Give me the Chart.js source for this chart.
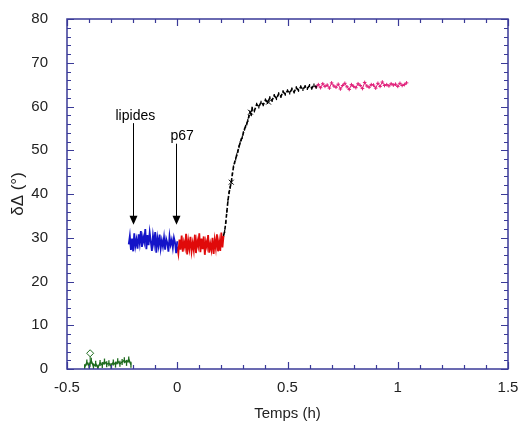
<!DOCTYPE html>
<html>
<head>
<meta charset="utf-8">
<script src="https://cdn.jsdelivr.net/npm/chart.js@4/dist/chart.umd.min.js"></script>
<style>
html,body{margin:0;padding:0;background:#fff;}
#wrap{width:518px;height:428px;position:relative;}
</style>
</head>
<body>
<div id="wrap"><canvas id="c" width="518" height="428"></canvas></div>
<script>
// ---- data (time in hours, delta-Delta in degrees) ----
const greenT = [-0.42,-0.41,-0.40,-0.39,-0.38,-0.37,-0.36,-0.35,-0.34,-0.33,-0.32,-0.31,-0.30,-0.29,-0.28,-0.27,-0.26,-0.25,-0.24,-0.23,-0.22,-0.21];
const greenV = [0.4,1.5,0.8,1.9,0.6,1.2,0.3,1.4,0.9,1.7,1.1,1.3,0.7,1.5,1.0,1.8,1.2,1.6,2.0,1.4,2.2,1.0];
const greenMarkT = [-0.395,-0.395];
const greenMarkV = [0.5,3.6];

const blueT = [-0.220,-0.215,-0.210,-0.205,-0.200,-0.195,-0.190,-0.185,-0.180,-0.175,-0.170,-0.165,-0.160,-0.155,-0.150,-0.145,-0.140,-0.135,-0.130,-0.125,-0.120,-0.115,-0.110,-0.105,-0.100,-0.095,-0.090,-0.085,-0.080,-0.075,-0.070,-0.065,-0.060,-0.055,-0.050,-0.045,-0.040,-0.035,-0.030,-0.025,-0.020,-0.015,-0.010,-0.005,0.000];
const blueV = [28.5,30.4,27.2,29.8,26.9,31.0,28.1,29.6,27.5,30.8,28.7,31.5,27.9,30.2,29.0,32.0,27.4,30.6,28.3,31.2,29.1,27.0,30.5,28.6,31.3,26.6,29.9,28.2,30.7,27.6,29.4,28.0,30.1,27.3,29.7,28.8,26.8,30.3,28.4,29.5,27.7,30.0,28.9,26.5,29.2];

const redT = [0.000,0.005,0.010,0.015,0.020,0.025,0.030,0.035,0.040,0.045,0.050,0.055,0.060,0.065,0.070,0.075,0.080,0.085,0.090,0.095,0.100,0.105,0.110,0.115,0.120,0.125,0.130,0.135,0.140,0.145,0.150,0.155,0.160,0.165,0.170,0.175,0.180,0.185,0.190,0.195,0.200,0.205,0.210];
const redV = [28.0,26.4,29.6,27.3,30.5,26.8,29.0,27.8,30.9,26.2,29.3,27.5,30.2,26.9,28.8,27.1,30.7,26.5,29.4,28.1,31.0,26.7,29.8,27.4,30.3,26.1,29.1,27.9,30.6,26.6,28.6,27.2,30.0,26.3,29.5,27.6,30.8,26.9,29.2,27.0,31.2,27.8,30.4];

const blackT = [0.210,0.215,0.220,0.225,0.230,0.235,0.240,0.245,0.250,0.255,0.260,0.265,0.270,0.275,0.280,0.285,0.290,0.295,0.300,0.305,0.310,0.315,0.320,0.325,0.330,0.335,0.340,0.350,0.360,0.370,0.380,0.390,0.400,0.410,0.420,0.430,0.440,0.450,0.460,0.470,0.480,0.490,0.500,0.510,0.520,0.530,0.540,0.550,0.560,0.570,0.580,0.590,0.600,0.610,0.620,0.630];
const blackV = [30.5,31.5,33.5,36.0,38.5,40.3,41.5,42.7,44.5,46.2,47.2,48.0,49.0,49.8,50.8,51.7,52.4,53.0,54.0,54.8,55.5,56.0,56.8,57.8,58.7,58.2,59.6,59.0,60.5,59.9,61.0,60.4,61.5,60.9,62.0,61.4,62.5,61.8,62.9,62.3,63.4,62.8,63.6,63.1,64.0,63.3,64.3,63.7,64.5,63.9,64.6,64.1,64.8,64.2,64.9,64.4];
const crossT = [0.245,0.332,0.414];
const crossV = [42.7,58.7,61.0];

const pinkT = [0.63,0.64,0.65,0.66,0.67,0.68,0.69,0.70,0.71,0.72,0.73,0.74,0.75,0.76,0.77,0.78,0.79,0.80,0.81,0.82,0.83,0.84,0.85,0.86,0.87,0.88,0.89,0.90,0.91,0.92,0.93,0.94,0.95,0.96,0.97,0.98,0.99,1.00,1.01,1.02,1.03,1.04];
const pinkV = [64.5,65.0,64.3,65.2,64.6,64.9,64.2,65.4,64.7,64.4,65.1,64.0,64.8,65.3,64.5,63.9,65.0,64.6,64.3,65.2,64.8,64.1,65.5,64.7,64.4,65.0,64.9,64.2,65.3,64.6,65.6,64.8,65.0,64.7,65.2,64.9,65.1,64.6,65.3,64.8,65.0,65.4];

// annotations: label, arrow x, arrow top, arrow tip, text x, text y
const annLabels = ["lipides","p67"];
const annArrowT = [-0.2,-0.006];
const annArrowTop = [56.2,51.5];
const annArrowTip = [33.0,33.0];
const annTextT = [-0.19,0.022];
const annTextV = [57.8,53.3];

const xTickLabels = [-0.5,0,0.5,1,1.5];
const yTickLabels = [0,10,20,30,40,50,60,70,80];

function pts(t,v){return t.map((x,i)=>({x:x,y:v[i]}));}

const AXIS = '#3a3a98';
const FAM = '"Liberation Sans", Arial, sans-serif';

const framePlugin = {
  id:'frame',
  afterDatasetsDraw(chart){
    const {ctx, chartArea:a, scales:{x,y}} = chart;
    ctx.save();
    ctx.strokeStyle = AXIS;
    ctx.lineWidth = 1.5;
    ctx.strokeRect(a.left, a.top, a.right-a.left, a.bottom-a.top);
    ctx.lineWidth = 1.2;
    ctx.beginPath();
    for(let i=0;i<=20;i++){
      const v = -0.5 + i*0.1;
      const px = Math.round(x.getPixelForValue(v))+0.5;
      const major = (i%5===0);
      const L = major?7:4;
      ctx.moveTo(px,a.bottom); ctx.lineTo(px,a.bottom-L);
      ctx.moveTo(px,a.top); ctx.lineTo(px,a.top+L);
    }
    for(let i=0;i<=40;i++){
      const v = i*2;
      const py = Math.round(y.getPixelForValue(v))+0.5;
      const major = (i%5===0);
      const L = major?7:4;
      ctx.moveTo(a.left,py); ctx.lineTo(a.left+L,py);
      ctx.moveTo(a.right,py); ctx.lineTo(a.right-L,py);
    }
    ctx.stroke();
    // annotations
    ctx.strokeStyle = '#000';
    ctx.fillStyle = '#000';
    ctx.lineWidth = 1;
    ctx.font = '14px ' + FAM;
    ctx.textAlign = 'center';
    ctx.textBaseline = 'middle';
    for(let i=0;i<annLabels.length;i++){
      const ax = Math.round(x.getPixelForValue(annArrowT[i]))+0.5;
      const y0 = y.getPixelForValue(annArrowTop[i]);
      const y1 = y.getPixelForValue(annArrowTip[i]);
      ctx.beginPath();
      ctx.moveTo(ax,y0); ctx.lineTo(ax,y1-6);
      ctx.stroke();
      ctx.beginPath();
      ctx.moveTo(ax,y1); ctx.lineTo(ax-4,y1-9); ctx.lineTo(ax+4,y1-9); ctx.closePath();
      ctx.fill();
      ctx.fillText(annLabels[i], x.getPixelForValue(annTextT[i]), y.getPixelForValue(annTextV[i]));
    }
    ctx.restore();
  }
};

const FONT = {family:FAM, size:15};

new Chart(document.getElementById('c'), {
  type:'line',
  data:{datasets:[
    {data:pts(greenT,greenV), borderColor:'#1d6b1d', borderWidth:1.4, pointStyle:'line', rotation:90, pointRadius:3, pointBorderColor:'#1d6b1d', pointBorderWidth:1.3},
    {data:pts(greenMarkT,greenMarkV), borderColor:'#1d6b1d', borderWidth:1, pointStyle:'rectRot', pointRadius:[0,3.5], pointBorderColor:'#1d6b1d', pointBackgroundColor:'#fff', pointBorderWidth:1},
    {data:pts(blueT,blueV), borderColor:'#1414c8', borderWidth:1.8, pointRadius:0},
    {data:pts(redT,redV), borderColor:'#e00a0a', borderWidth:1.8, pointRadius:0},
    {data:pts(blackT,blackV), borderColor:'#000', borderWidth:1.6, borderDash:[4,2], pointStyle:'line', rotation:90, pointRadius:1.5, pointBorderColor:'#000', pointBorderWidth:1.2},
    {data:pts(crossT,crossV), showLine:false, pointStyle:'crossRot', pointRadius:3.5, pointBorderColor:'#000', pointBorderWidth:1},
    {data:pts(pinkT,pinkV), borderColor:'#e0207a', borderWidth:1, pointStyle:'cross', pointRadius:1.8, pointBorderColor:'#e0207a', pointBorderWidth:1}
  ]},
  options:{
    responsive:false,
    animation:false,
    layout:{padding:{left:0,right:10,top:19,bottom:0}},
    plugins:{legend:{display:false},tooltip:{enabled:false}},
    elements:{line:{tension:0}},
    scales:{
      x:{type:'linear', min:-0.5, max:1.5,
        afterBuildTicks(s){s.ticks = xTickLabels.map(v=>({value:v}));},
        afterFit(s){s.height = 59; s.paddingLeft = 0; s.paddingRight = 0;},
        grid:{display:false}, border:{display:false},
        ticks:{font:FONT, color:'#222', padding:2, maxRotation:0, autoSkip:false, callback:(v)=>String(v)},
        title:{display:true, text:'Temps (h)', font:FONT, color:'#222', padding:{top:4,bottom:5}}
      },
      y:{type:'linear', min:0, max:80,
        afterBuildTicks(s){s.ticks = yTickLabels.map(v=>({value:v}));},
        afterFit(s){s.width = 67; s.paddingTop = 0; s.paddingBottom = 0;},
        grid:{display:false}, border:{display:false},
        ticks:{font:FONT, color:'#222', padding:11, autoSkip:false, callback:(v)=>String(v)},
        title:{display:true, text:'δΔ (°)', font:{family:FAM, size:17}, color:'#222', padding:{top:8,bottom:4}}
      }
    }
  },
  plugins:[framePlugin]
});
</script>
</body>
</html>
